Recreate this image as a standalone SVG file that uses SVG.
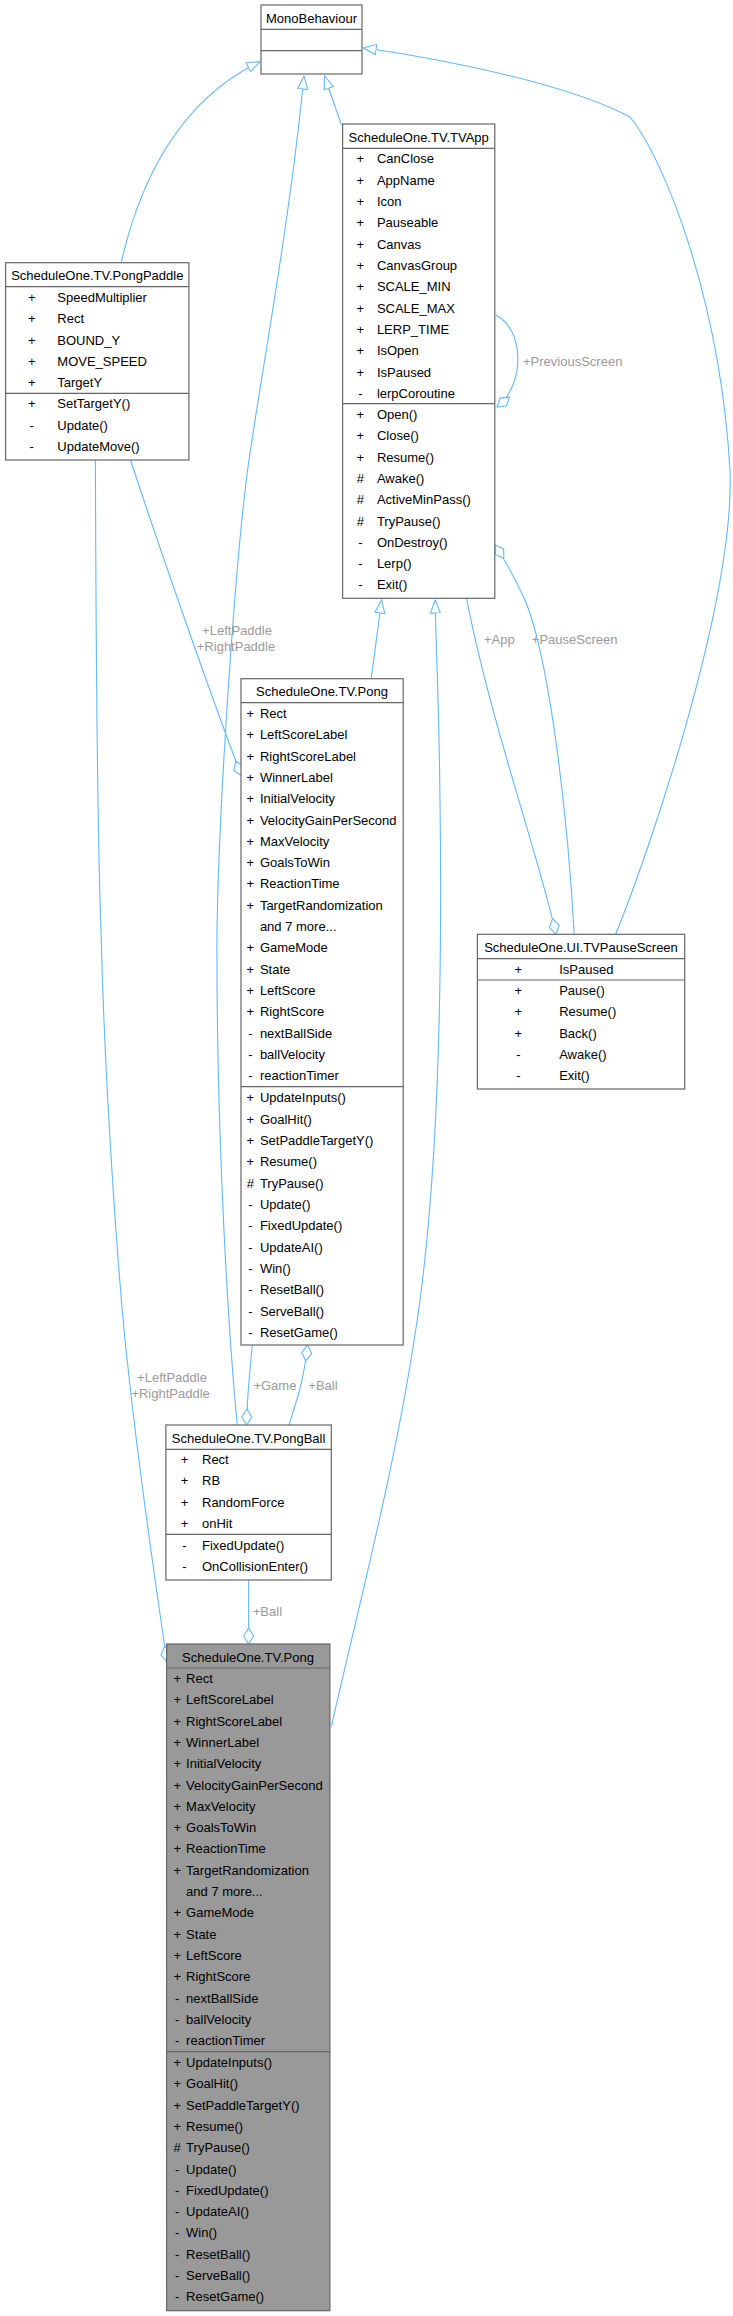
<svg xmlns="http://www.w3.org/2000/svg" width="733" height="2316" viewBox="0 0 733 2316">
<style>
.box{fill:#ffffff;stroke:#666666;stroke-width:1.2}
.hl{fill:#999999;stroke:#666666;stroke-width:1.2}
.sep{stroke:#666666;stroke-width:1.2}
text{font-family:"Liberation Sans",Arial,Helvetica,sans-serif;font-size:13px;fill:#000000}
.c{text-anchor:middle}
.lbl{fill:#9a9a9a}
.e{fill:none;stroke:#63b8ff;stroke-width:1.1}
.inh{marker-end:url(#tri)}
.agg{marker-end:url(#dia)}
</style>
<defs>
<marker id="tri" markerUnits="userSpaceOnUse" viewBox="0 0 14 12" markerWidth="14" markerHeight="12" refX="13.5" refY="6" orient="auto"><path d="M0.5,1 L13.5,6 L0.5,11 Z" fill="#ffffff" stroke="#63b8ff" stroke-width="1.1"/></marker>
<marker id="dia" markerUnits="userSpaceOnUse" viewBox="0 0 17 12" markerWidth="17" markerHeight="12" refX="16.5" refY="6" orient="auto"><path d="M0.5,6 L8.5,1 L16.5,6 L8.5,11 Z" fill="#ffffff" stroke="#63b8ff" stroke-width="1.1"/></marker>
</defs>
<rect width="733" height="2316" fill="#ffffff"/>

<g id="edges">
<path class="e inh" d="M121.2,262.7 C140,180 180,100 259.9,61.7"/>
<path class="e inh" d="M237.3,1425 C230,1350 216,1150 217,930 C219,800 236,550 249,460 C262,370 290,220 304,76"/>
<path class="e inh" d="M341.5,125 L324.5,76"/>
<path class="e inh" d="M615.6,934.3 C650,850 735,600 730,470 C720,300 665,160 630,117 C570,85 450,60 363.2,47.7"/>
<path class="e inh" d="M371.2,678.7 L381.6,600"/>
<path class="e inh" d="M331.3,1726.7 C360,1600 400,1450 420,1300 C440,1150 442,950 440,800 C439,700 436,650 435.2,600"/>
<path class="e agg" d="M130.6,460 C150,520 205,680 241.5,776"/>
<path class="e agg" d="M95.4,460 C96,650 98,850 101,930 C105,1100 120,1300 128.3,1370 C140,1480 155,1580 167,1662"/>
<path class="e agg" d="M466.6,598.3 C490,720 540,860 556,934.3"/>
<path class="e agg" d="M574.2,934.3 C568,820 550,660 525,600 C515,578 505,560 495,545"/>
<path class="e agg" d="M495.8,315 C525,330 525,385 497,407"/>
<path class="e agg" d="M252.3,1345 C250,1370 247,1395 246.7,1425"/>
<path class="e agg" d="M289,1425 C297,1400 304,1380 307.5,1345"/>
<path class="e agg" d="M248.6,1580 L248.6,1644"/>
<text class="lbl" x="523" y="366.2">+PreviousScreen</text>
<text class="lbl c" x="237" y="634.5">+LeftPaddle</text>
<text class="lbl c" x="236" y="651.2">+RightPaddle</text>
<text class="lbl c" x="499.3" y="643.5">+App</text>
<text class="lbl c" x="574.7" y="643.5">+PauseScreen</text>
<text class="lbl c" x="172" y="1381.8">+LeftPaddle</text>
<text class="lbl c" x="170.6" y="1397.8">+RightPaddle</text>
<text class="lbl c" x="274.9" y="1389.8">+Game</text>
<text class="lbl c" x="323" y="1389.8">+Ball</text>
<text class="lbl c" x="267.4" y="1616.2">+Ball</text>
</g>

<g id="MonoBehaviour">
<rect class="box" x="261" y="5" width="101" height="69"/>
<line class="sep" x1="261" y1="29.3" x2="362" y2="29.3"/>
<line class="sep" x1="261" y1="50.7" x2="362" y2="50.7"/>
<text class="c" x="311.5" y="22.8">MonoBehaviour</text>
</g>

<g id="TVApp">
<rect class="box" x="342.6" y="124" width="152.2" height="474.3"/>
<line class="sep" x1="342.6" y1="148.3" x2="494.8" y2="148.3"/>
<line class="sep" x1="342.6" y1="403.7" x2="494.8" y2="403.7"/>
<text class="c" x="418.7" y="141.8">ScheduleOne.TV.TVApp</text>
<g class="c">
<text x="360.4" y="163.2">+</text><text x="360.4" y="184.5">+</text><text x="360.4" y="205.9">+</text><text x="360.4" y="227.2">+</text><text x="360.4" y="248.5">+</text><text x="360.4" y="269.9">+</text><text x="360.4" y="291.2">+</text><text x="360.4" y="312.5">+</text><text x="360.4" y="333.8">+</text><text x="360.4" y="355.2">+</text><text x="360.4" y="376.5">+</text><text x="360.4" y="397.8">-</text>
<text x="360.4" y="418.8">+</text><text x="360.4" y="440.1">+</text><text x="360.4" y="461.5">+</text><text x="360.4" y="482.8">#</text><text x="360.4" y="504.1">#</text><text x="360.4" y="525.5">#</text><text x="360.4" y="546.8">-</text><text x="360.4" y="568.1">-</text><text x="360.4" y="589.4">-</text>
</g>
<text x="376.9" y="163.2">CanClose</text>
<text x="376.9" y="184.5">AppName</text>
<text x="376.9" y="205.9">Icon</text>
<text x="376.9" y="227.2">Pauseable</text>
<text x="376.9" y="248.5">Canvas</text>
<text x="376.9" y="269.9">CanvasGroup</text>
<text x="376.9" y="291.2">SCALE_MIN</text>
<text x="376.9" y="312.5">SCALE_MAX</text>
<text x="376.9" y="333.8">LERP_TIME</text>
<text x="376.9" y="355.2">IsOpen</text>
<text x="376.9" y="376.5">IsPaused</text>
<text x="376.9" y="397.8">lerpCoroutine</text>
<text x="376.9" y="418.8">Open()</text>
<text x="376.9" y="440.1">Close()</text>
<text x="376.9" y="461.5">Resume()</text>
<text x="376.9" y="482.8">Awake()</text>
<text x="376.9" y="504.1">ActiveMinPass()</text>
<text x="376.9" y="525.5">TryPause()</text>
<text x="376.9" y="546.8">OnDestroy()</text>
<text x="376.9" y="568.1">Lerp()</text>
<text x="376.9" y="589.4">Exit()</text>
</g>

<g id="PongPaddle">
<rect class="box" x="5.6" y="262.7" width="183.3" height="197.3"/>
<line class="sep" x1="5.6" y1="286.7" x2="188.9" y2="286.7"/>
<line class="sep" x1="5.6" y1="393.3" x2="188.9" y2="393.3"/>
<text class="c" x="97.3" y="279.8">ScheduleOne.TV.PongPaddle</text>
<g class="c">
<text x="31.7" y="301.8">+</text><text x="31.7" y="323.1">+</text><text x="31.7" y="344.5">+</text><text x="31.7" y="365.8">+</text><text x="31.7" y="387.1">+</text>
<text x="31.7" y="408.2">+</text><text x="31.7" y="429.5">-</text><text x="31.7" y="450.9">-</text>
</g>
<text x="57.3" y="301.8">SpeedMultiplier</text>
<text x="57.3" y="323.1">Rect</text>
<text x="57.3" y="344.5">BOUND_Y</text>
<text x="57.3" y="365.8">MOVE_SPEED</text>
<text x="57.3" y="387.1">TargetY</text>
<text x="57.3" y="408.2">SetTargetY()</text>
<text x="57.3" y="429.5">Update()</text>
<text x="57.3" y="450.9">UpdateMove()</text>
</g>

<g id="Pong">
<rect class="box" x="241" y="678.7" width="162.2" height="666.3"/>
<line class="sep" x1="241" y1="702.7" x2="403.2" y2="702.7"/>
<line class="sep" x1="241" y1="1086.7" x2="403.2" y2="1086.7"/>
<text class="c" x="322" y="696.2">ScheduleOne.TV.Pong</text>
<g class="c">
<text x="250.3" y="717.8">+</text><text x="250.3" y="739.1">+</text><text x="250.3" y="760.5">+</text><text x="250.3" y="781.8">+</text><text x="250.3" y="803.1">+</text><text x="250.3" y="824.5">+</text><text x="250.3" y="845.8">+</text><text x="250.3" y="867.1">+</text><text x="250.3" y="888.4">+</text><text x="250.3" y="909.8">+</text>
<text x="250.3" y="952.4">+</text><text x="250.3" y="973.8">+</text><text x="250.3" y="995.1">+</text><text x="250.3" y="1016.4">+</text><text x="250.3" y="1037.8">-</text><text x="250.3" y="1059.1">-</text><text x="250.3" y="1080.4">-</text>
<text x="250.3" y="1102.2">+</text><text x="250.3" y="1123.5">+</text><text x="250.3" y="1144.9">+</text><text x="250.3" y="1166.2">+</text><text x="250.3" y="1187.5">#</text><text x="250.3" y="1208.9">-</text><text x="250.3" y="1230.2">-</text><text x="250.3" y="1251.5">-</text><text x="250.3" y="1272.8">-</text><text x="250.3" y="1294.2">-</text><text x="250.3" y="1315.5">-</text><text x="250.3" y="1336.8">-</text>
</g>
<text x="259.9" y="717.8">Rect</text>
<text x="259.9" y="739.1">LeftScoreLabel</text>
<text x="259.9" y="760.5">RightScoreLabel</text>
<text x="259.9" y="781.8">WinnerLabel</text>
<text x="259.9" y="803.1">InitialVelocity</text>
<text x="259.9" y="824.5">VelocityGainPerSecond</text>
<text x="259.9" y="845.8">MaxVelocity</text>
<text x="259.9" y="867.1">GoalsToWin</text>
<text x="259.9" y="888.4">ReactionTime</text>
<text x="259.9" y="909.8">TargetRandomization</text>
<text x="259.9" y="931.1">and 7 more...</text>
<text x="259.9" y="952.4">GameMode</text>
<text x="259.9" y="973.8">State</text>
<text x="259.9" y="995.1">LeftScore</text>
<text x="259.9" y="1016.4">RightScore</text>
<text x="259.9" y="1037.8">nextBallSide</text>
<text x="259.9" y="1059.1">ballVelocity</text>
<text x="259.9" y="1080.4">reactionTimer</text>
<text x="259.9" y="1102.2">UpdateInputs()</text>
<text x="259.9" y="1123.5">GoalHit()</text>
<text x="259.9" y="1144.9">SetPaddleTargetY()</text>
<text x="259.9" y="1166.2">Resume()</text>
<text x="259.9" y="1187.5">TryPause()</text>
<text x="259.9" y="1208.9">Update()</text>
<text x="259.9" y="1230.2">FixedUpdate()</text>
<text x="259.9" y="1251.5">UpdateAI()</text>
<text x="259.9" y="1272.8">Win()</text>
<text x="259.9" y="1294.2">ResetBall()</text>
<text x="259.9" y="1315.5">ServeBall()</text>
<text x="259.9" y="1336.8">ResetGame()</text>
</g>

<g id="TVPauseScreen">
<rect class="box" x="477.4" y="934.3" width="207.3" height="154.7"/>
<line class="sep" x1="477.4" y1="958.7" x2="684.7" y2="958.7"/>
<line class="sep" x1="477.4" y1="980" x2="684.7" y2="980"/>
<text class="c" x="581" y="952.2">ScheduleOne.UI.TVPauseScreen</text>
<g class="c">
<text x="518.3" y="973.8">+</text>
<text x="518.3" y="994.8">+</text><text x="518.3" y="1016.1">+</text><text x="518.3" y="1037.5">+</text><text x="518.3" y="1058.8">-</text><text x="518.3" y="1080.1">-</text>
</g>
<text x="559.2" y="973.8">IsPaused</text>
<text x="559.2" y="994.8">Pause()</text>
<text x="559.2" y="1016.1">Resume()</text>
<text x="559.2" y="1037.5">Back()</text>
<text x="559.2" y="1058.8">Awake()</text>
<text x="559.2" y="1080.1">Exit()</text>
</g>

<g id="PongBall">
<rect class="box" x="165.9" y="1425" width="165.4" height="155"/>
<line class="sep" x1="165.9" y1="1449.3" x2="331.3" y2="1449.3"/>
<line class="sep" x1="165.9" y1="1534.3" x2="331.3" y2="1534.3"/>
<text class="c" x="248.6" y="1442.8">ScheduleOne.TV.PongBall</text>
<g class="c">
<text x="184.5" y="1463.8">+</text><text x="184.5" y="1485.1">+</text><text x="184.5" y="1506.5">+</text><text x="184.5" y="1527.8">+</text>
<text x="184.5" y="1549.8">-</text><text x="184.5" y="1571.1">-</text>
</g>
<text x="202" y="1463.8">Rect</text>
<text x="202" y="1485.1">RB</text>
<text x="202" y="1506.5">RandomForce</text>
<text x="202" y="1527.8">onHit</text>
<text x="202" y="1549.8">FixedUpdate()</text>
<text x="202" y="1571.1">OnCollisionEnter()</text>
</g>

<g id="PongFocus">
<rect class="hl" x="166.6" y="1644" width="163.3" height="666.7"/>
<line class="sep" x1="166.6" y1="1668" x2="329.9" y2="1668"/>
<line class="sep" x1="166.6" y1="2051.7" x2="329.9" y2="2051.7"/>
<text class="c" x="248" y="1661.8">ScheduleOne.TV.Pong</text>
<g class="c">
<text x="177.2" y="1682.8">+</text><text x="177.2" y="1704.1">+</text><text x="177.2" y="1725.5">+</text><text x="177.2" y="1746.8">+</text><text x="177.2" y="1768.1">+</text><text x="177.2" y="1789.5">+</text><text x="177.2" y="1810.8">+</text><text x="177.2" y="1832.1">+</text><text x="177.2" y="1853.4">+</text><text x="177.2" y="1874.8">+</text>
<text x="177.2" y="1917.4">+</text><text x="177.2" y="1938.8">+</text><text x="177.2" y="1960.1">+</text><text x="177.2" y="1981.4">+</text><text x="177.2" y="2002.8">-</text><text x="177.2" y="2024.1">-</text><text x="177.2" y="2045.4">-</text>
<text x="177.2" y="2066.8">+</text><text x="177.2" y="2088.1">+</text><text x="177.2" y="2109.5">+</text><text x="177.2" y="2130.8">+</text><text x="177.2" y="2152.1">#</text><text x="177.2" y="2173.5">-</text><text x="177.2" y="2194.8">-</text><text x="177.2" y="2216.1">-</text><text x="177.2" y="2237.4">-</text><text x="177.2" y="2258.8">-</text><text x="177.2" y="2280.1">-</text><text x="177.2" y="2301.4">-</text>
</g>
<text x="186.1" y="1682.8">Rect</text>
<text x="186.1" y="1704.1">LeftScoreLabel</text>
<text x="186.1" y="1725.5">RightScoreLabel</text>
<text x="186.1" y="1746.8">WinnerLabel</text>
<text x="186.1" y="1768.1">InitialVelocity</text>
<text x="186.1" y="1789.5">VelocityGainPerSecond</text>
<text x="186.1" y="1810.8">MaxVelocity</text>
<text x="186.1" y="1832.1">GoalsToWin</text>
<text x="186.1" y="1853.4">ReactionTime</text>
<text x="186.1" y="1874.8">TargetRandomization</text>
<text x="186.1" y="1896.1">and 7 more...</text>
<text x="186.1" y="1917.4">GameMode</text>
<text x="186.1" y="1938.8">State</text>
<text x="186.1" y="1960.1">LeftScore</text>
<text x="186.1" y="1981.4">RightScore</text>
<text x="186.1" y="2002.8">nextBallSide</text>
<text x="186.1" y="2024.1">ballVelocity</text>
<text x="186.1" y="2045.4">reactionTimer</text>
<text x="186.1" y="2066.8">UpdateInputs()</text>
<text x="186.1" y="2088.1">GoalHit()</text>
<text x="186.1" y="2109.5">SetPaddleTargetY()</text>
<text x="186.1" y="2130.8">Resume()</text>
<text x="186.1" y="2152.1">TryPause()</text>
<text x="186.1" y="2173.5">Update()</text>
<text x="186.1" y="2194.8">FixedUpdate()</text>
<text x="186.1" y="2216.1">UpdateAI()</text>
<text x="186.1" y="2237.4">Win()</text>
<text x="186.1" y="2258.8">ResetBall()</text>
<text x="186.1" y="2280.1">ServeBall()</text>
<text x="186.1" y="2301.4">ResetGame()</text>
</g>
</svg>
